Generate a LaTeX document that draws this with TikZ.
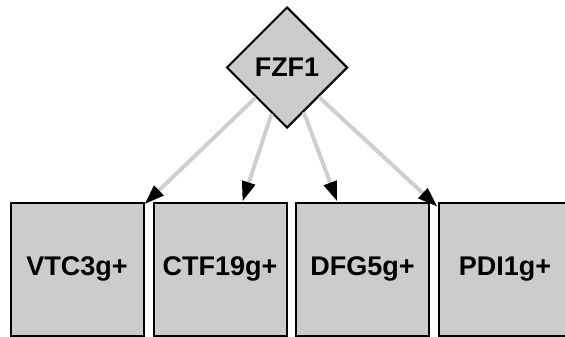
\documentclass[tikz,border=0pt]{standalone}
\usepackage{fontspec}
\setmainfont{Liberation Sans}
\usetikzlibrary{shapes.geometric,arrows.meta}
\definecolor{nodefill}{HTML}{CCCCCC}
\definecolor{edgegray}{HTML}{CFCFCF}
\begin{document}
\begin{tikzpicture}[x=1pt,y=1pt,
  gene/.style={draw=black,line width=2pt,fill=nodefill,minimum size=133pt,inner sep=0pt,font=\fontsize{27}{30}\selectfont\bfseries},
  hub/.style={draw=black,line width=2pt,fill=nodefill,diamond,minimum width=121pt,minimum height=121pt,inner sep=0pt,font=\fontsize{27}{30}\selectfont\bfseries},
  >={Triangle[length=20pt,width=13pt,color=black]}]
\useasboundingbox (0,0) rectangle (565,-337);

\node [hub] (0) at (287, -67.5) {FZF1};

\node [gene] (1) at (77, -269) {VTC3g+};
\node [gene] (2) at (220, -269) {CTF19g+};
\node [gene] (3) at (362.5, -269) {DFG5g+};
\node [gene] (4) at (505, -269) {PDI1g+};

\draw [->, edgegray, line width=4pt] (0) to (1);
\draw [->, edgegray, line width=4pt] (0) to (2);
\draw [->, edgegray, line width=4pt] (0) to (3);
\draw [->, edgegray, line width=4pt] (0) to (4);
\end{tikzpicture}
\end{document}
